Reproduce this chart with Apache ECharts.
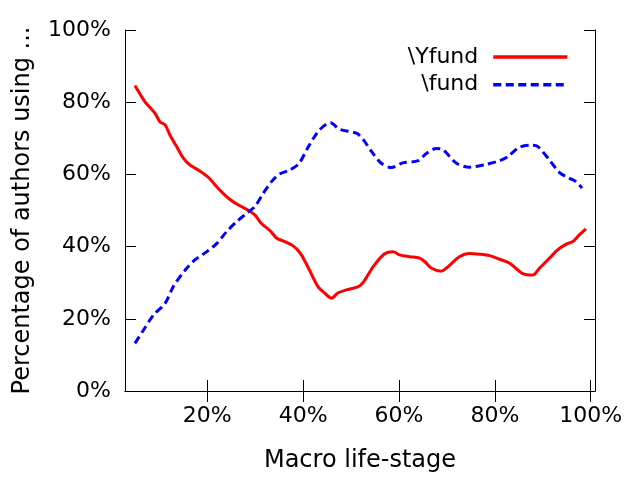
<!DOCTYPE html>
<html>
<head>
<meta charset="utf-8">
<script src="https://cdn.jsdelivr.net/npm/echarts@6/dist/echarts.min.js"></script>
<style>
  html, body { margin: 0; padding: 0; background: #fff; }
  #chart { width: 640px; height: 480px; }
</style>
</head>
<body>
<div id="chart"></div>
<script>
// x = macro life-stage (%), y = share of authors (%)
const yfundStage = [4.9, 7.0, 9.1, 10.1, 11.2, 12.2, 13.6, 15.0, 16.4, 18.5, 20.2, 22.3, 24.4, 26.5, 28.5, 29.9,
  31.3, 33.1, 34.5, 35.8, 37.9, 39.5, 41.2, 43.1, 44.5, 45.9, 47.3, 49.0, 51.5, 52.5, 54.6, 57.0, 58.8, 60.1,
  62.2, 64.3, 65.4, 66.8, 68.8, 70.2, 72.6, 74.7, 76.8, 78.9, 81.0, 83.1, 85.7, 87.9, 89.3, 91.4, 93.1, 94.9,
  96.3, 97.6, 99.0]
const yfundShare = [84.6, 80.1, 76.9, 74.6, 73.7, 70.9, 67.7, 64.5, 62.6, 60.9, 59.2, 56.1, 53.4, 51.5, 50.1, 48.8,
  46.4, 44.4, 42.3, 41.6, 40.2, 38.0, 33.8, 28.9, 27.1, 25.7, 27.2, 28.0, 28.9, 30.0, 34.4, 38.0, 38.6, 37.7,
  37.2, 36.8, 35.8, 34.0, 33.2, 34.4, 37.2, 38.1, 37.9, 37.5, 36.5, 35.4, 32.6, 32.1, 34.0, 36.8, 39.1, 40.7,
  41.4, 43.2, 44.9]

const fundStage = [4.9, 6.7, 8.8, 11.2, 12.9, 15.4, 17.4, 19.9, 22.0, 24.0, 26.1, 28.2, 29.9, 31.7, 33.4, 35.1,
  37.2, 39.1, 41.2, 43.4, 45.7, 47.6, 51.1, 52.5, 54.3, 56.3, 58.4, 60.8, 64.0, 65.7, 67.8, 69.2, 72.0, 74.7,
  78.2, 81.0, 82.7, 85.1, 87.9, 89.0, 91.4, 93.5, 95.6, 96.9, 98.2]
const fundShare = [13.2, 16.9, 21.1, 24.3, 28.9, 33.5, 36.3, 38.6, 40.9, 44.1, 46.9, 49.2, 51.1, 54.8, 58.0, 60.1,
  61.2, 63.0, 67.9, 72.3, 74.3, 72.5, 71.4, 69.7, 66.3, 63.1, 61.9, 63.2, 63.8, 65.8, 67.2, 66.8, 63.1, 62.0,
  62.8, 63.8, 64.9, 67.5, 68.1, 67.7, 64.0, 60.5, 58.9, 58.0, 56.2]

const xTicks = [20, 40, 60, 80, 100]
const seriesNames = ['\\Yfund', '\\fund']

const pct = v => v + '%'
const font = 'DejaVu Sans'

const chart = echarts.init(document.getElementById('chart'))

const option = {
  animation: false,
  textStyle: { fontFamily: font },
  grid: { left: 125, right: 45, top: 30, bottom: 89 },
  legend: {
    right: 66,
    top: 41,
    orient: 'vertical',
    align: 'right',
    itemWidth: 74,
    itemHeight: 14,
    itemGap: 5.7,
    itemStyle: { opacity: 0 },
    lineStyle: { width: 3.5 },
    textStyle: { fontFamily: font, fontSize: 22, color: '#000', padding: [0, 10, 0, 0] },
    data: seriesNames
  },
  xAxis: [
    {
      type: 'value',
      min: 2.83,
      max: 100.9,
      name: 'Macro life-stage',
      nameLocation: 'middle',
      nameGap: 58,
      nameTextStyle: { fontFamily: font, fontSize: 24, color: '#000' },
      axisLine: { lineStyle: { color: '#000', width: 1 } },
      axisTick: { inside: true, length: 11, customValues: xTicks, lineStyle: { color: '#000' } },
      axisLabel: { customValues: xTicks, formatter: pct, fontSize: 22, color: '#000', margin: 14, fontFamily: font },
      splitLine: { show: false }
    },
    {
      type: 'value',
      position: 'top',
      min: 2.83,
      max: 100.9,
      axisLine: { lineStyle: { color: '#000', width: 1 } },
      axisTick: { inside: true, length: 11, customValues: xTicks, lineStyle: { color: '#000' } },
      axisLabel: { show: false },
      splitLine: { show: false }
    }
  ],
  yAxis: [
    {
      type: 'value',
      min: 0,
      max: 100,
      interval: 20,
      name: 'Percentage of authors using ...',
      nameLocation: 'middle',
      nameGap: 90,
      nameTextStyle: { fontFamily: font, fontSize: 24, color: '#000' },
      axisLine: { show: true, lineStyle: { color: '#000', width: 1 } },
      axisTick: { show: true, inside: true, length: 11, lineStyle: { color: '#000' } },
      axisLabel: { formatter: pct, fontSize: 22, color: '#000', margin: 14, fontFamily: font },
      splitLine: { show: false }
    },
    {
      type: 'value',
      position: 'right',
      min: 0,
      max: 100,
      interval: 20,
      axisLine: { show: true, lineStyle: { color: '#000', width: 1 } },
      axisTick: { show: true, inside: true, length: 11, lineStyle: { color: '#000' } },
      axisLabel: { show: false },
      splitLine: { show: false }
    }
  ],
  series: [
    {
      name: seriesNames[0],
      type: 'line',
      symbol: 'none',
      smooth: 0.3,
      lineStyle: { color: '#ff0000', width: 3 },
      itemStyle: { color: '#ff0000' },
      data: yfundStage.map((x, i) => [x, yfundShare[i]])
    },
    {
      name: seriesNames[1],
      type: 'line',
      symbol: 'none',
      smooth: 0.3,
      lineStyle: { color: '#0000ff', width: 3, type: [8, 4.5] },
      itemStyle: { color: '#0000ff' },
      data: fundStage.map((x, i) => [x, fundShare[i]])
    }
  ]
}

chart.setOption(option)
</script>
</body>
</html>
